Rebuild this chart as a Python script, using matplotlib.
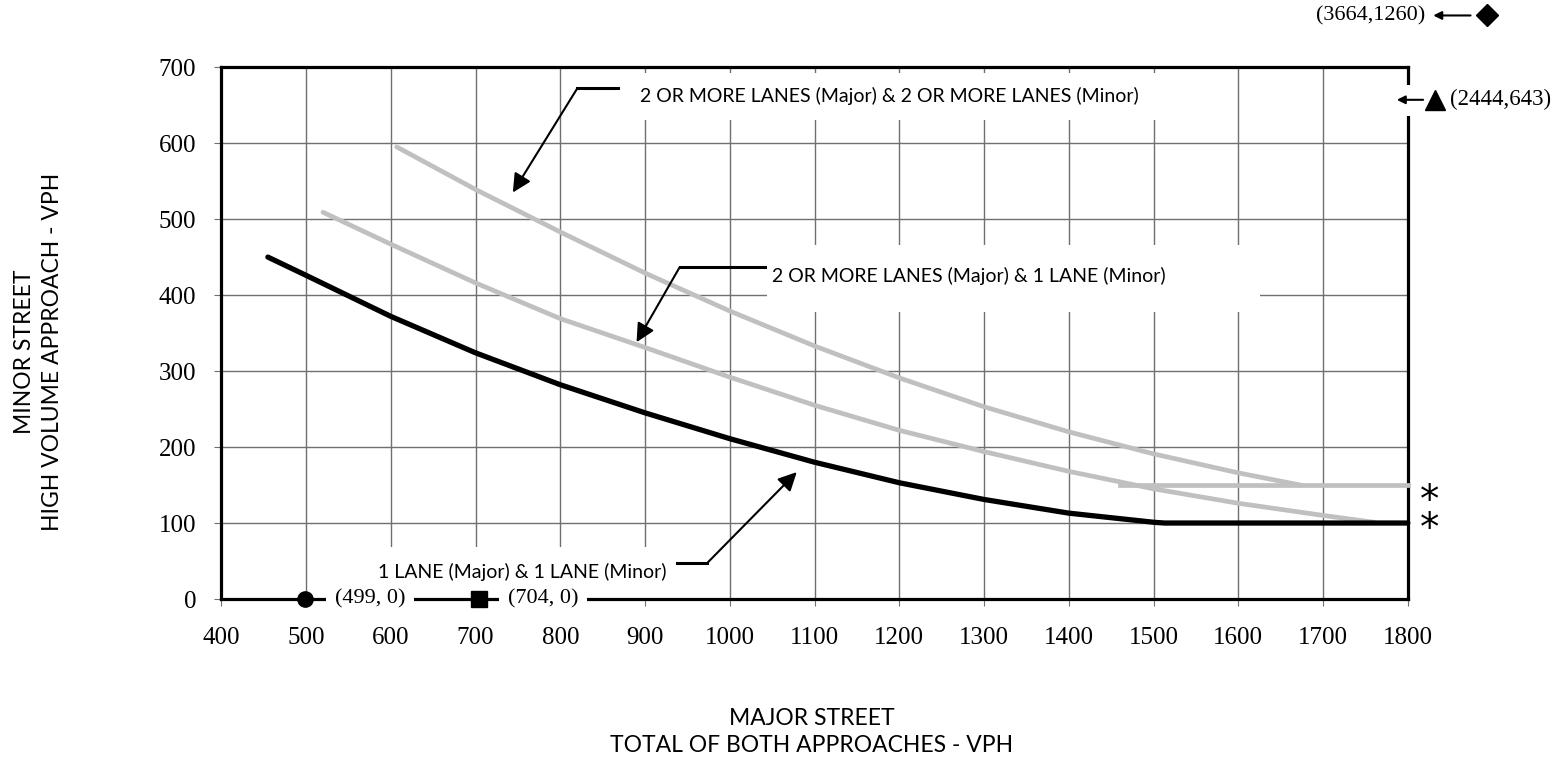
import matplotlib.pyplot as plt
from matplotlib.patches import Rectangle

# curve values (major street vph, minor street vph)
one_one_x = [455, 500, 600, 700, 800, 900, 1000, 1100, 1200, 1300, 1400, 1500, 1513, 1800]
one_one_y = [450, 426, 372, 324, 282, 245, 211, 180, 153, 131, 113, 101, 100, 100]

two_one_x = [520, 600, 700, 800, 900, 1000, 1100, 1200, 1300, 1400, 1500, 1600, 1700, 1760]
two_one_y = [509, 467, 416, 369, 331, 292, 255, 222, 194, 168, 145, 126, 110, 101]

two_two_x = [607, 700, 800, 900, 1000, 1100, 1200, 1300, 1400, 1500, 1600, 1673]
two_two_y = [595, 539, 483, 429, 379, 333, 291, 253, 220, 191, 166, 150]

floor_x = [1460, 1800]
floor_y = [150, 150]

x_ticks = list(range(400, 1801, 100))
y_ticks = list(range(0, 701, 100))

label_1 = "2 OR MORE LANES (Major) & 2 OR MORE LANES (Minor)"
label_2 = "2 OR MORE LANES (Major) & 1 LANE (Minor)"
label_3 = "1 LANE (Major) & 1 LANE (Minor)"

SANS = "Lato"
SERIF = "Liberation Serif"
GRAY = "#c0c0c0"

fig = plt.figure(figsize=(15.66, 7.62), dpi=100)
ax = fig.add_axes([0.1413, 0.2139, 0.7577, 0.698])
ax.set_xlim(400, 1800)
ax.set_ylim(0, 700)
ax.set_xticks(x_ticks)
ax.set_yticks(y_ticks)
ax.grid(color="#707070", lw=1.0)
ax.set_axisbelow(True)
for s in ax.spines.values():
    s.set_linewidth(2.3)
ax.tick_params(direction="out", length=5, width=0.8, color="#707070",
               labelsize=18, pad=13)
ax.tick_params(axis="x", pad=15)
for t in ax.get_xticklabels() + ax.get_yticklabels():
    t.set_fontfamily(SERIF)

# white text boxes hiding the grid
for x0, y0, x1, y1 in [(872, 630, 1508, 692), (1044, 378, 1625, 466), (563, 0, 937, 68)]:
    ax.add_patch(Rectangle((x0, y0), x1 - x0, y1 - y0, fc="white", ec="none", zorder=1.5))

ax.plot(two_two_x, two_two_y, color=GRAY, lw=3.4, solid_capstyle="round", zorder=3)
ax.plot(two_one_x, two_one_y, color=GRAY, lw=3.4, solid_capstyle="round", zorder=3)
ax.plot(floor_x, floor_y, color=GRAY, lw=3.4, zorder=3, clip_on=False)
ax.plot(one_one_x, one_one_y, color="black", lw=3.8, solid_capstyle="round", zorder=4, clip_on=False)

# labels with leader arrows
leaders = [
    (label_1, (894, 662), (868, 672), (820, 672), (744, 535)),
    (label_2, (1050, 425), (1041, 437), (941, 437), (890, 338)),
    (label_3, (585, 35), (938, 47), (973, 47), (1079, 167)),
]
for text, tpos, hend, knee, tip in leaders:
    ax.text(tpos[0], tpos[1], text, family=SANS, fontsize=14, va="center", zorder=5)
    ax.plot([hend[0], knee[0]], [hend[1], knee[1]], color="black", lw=2.2, zorder=5)
    ax.annotate("", xy=tip, xytext=knee, zorder=5,
                arrowprops=dict(arrowstyle="-|>", color="black", lw=1.5,
                                mutation_scale=28, shrinkA=0, shrinkB=0))

# intercept markers on the x axis
ax.plot([499], [0], "o", color="black", ms=11, clip_on=False, zorder=6)
ax.plot([704], [0], "s", color="black", ms=11, clip_on=False, zorder=6)
ax.text(534, 0, "(499, 0)", family=SERIF, fontsize=16, va="center", zorder=6,
        bbox=dict(fc="white", ec="none", pad=6))
ax.text(738, 0, "(704, 0)", family=SERIF, fontsize=16, va="center", zorder=6,
        bbox=dict(fc="white", ec="none", pad=6))

# off-chart points
ax.text(1821, 768, "(3664,1260)", family=SERIF, fontsize=16, ha="right", va="center",
        clip_on=False)
ax.annotate("", xy=(1830, 768), xytext=(1874, 768), annotation_clip=False,
            arrowprops=dict(arrowstyle="-|>", color="black", lw=1.5, mutation_scale=12,
                            shrinkA=0, shrinkB=0))
ax.plot([1893], [768], "D", color="black", ms=11, clip_on=False)

ax.add_patch(Rectangle((1780, 636), 135, 40, fc="white", ec="none", clip_on=False, zorder=5))
ax.annotate("", xy=(1787, 657), xytext=(1818, 657), annotation_clip=False, zorder=6,
            arrowprops=dict(arrowstyle="-|>", color="black", lw=1.5, mutation_scale=12,
                            shrinkA=0, shrinkB=0))
ax.plot([1832], [657], "^", color="black", ms=14, clip_on=False, zorder=6)
ax.text(1850, 657, "(2444,643)", family=SERIF, fontsize=16.5, va="center", clip_on=False,
        zorder=6)

# minimum threshold stars (one two-line text so they stack tightly)
ax.annotate("*\n*", xy=(1826, 100), xytext=(0, 6), textcoords="offset points",
            family="DejaVu Sans", fontsize=28, ha="center", va="center",
            linespacing=0.66, annotation_clip=False)

fig.text(0.0245, 0.538, "MINOR STREET\nHIGH VOLUME APPROACH - VPH", family=SANS,
         fontsize=16.5, rotation=90, ha="center", va="center", linespacing=1.4)
fig.text(0.5185, 0.0394, "MAJOR STREET\nTOTAL OF BOTH APPROACHES - VPH", family=SANS,
         fontsize=16.5, ha="center", va="center", linespacing=1.4)

fig.savefig("out.png", dpi=100)
